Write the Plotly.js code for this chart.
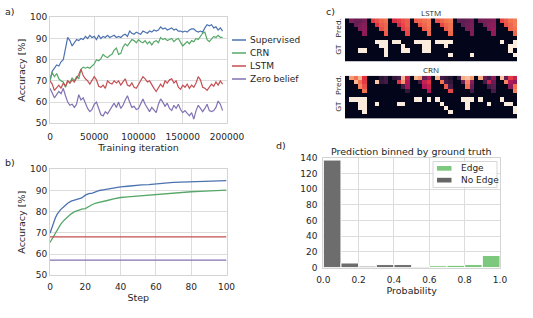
<!DOCTYPE html>
<html><head><meta charset="utf-8">
<script src="https://cdn.plot.ly/plotly-3.0.1.min.js"></script>
<style>html,body{margin:0;padding:0;background:#fff}#chart{width:533px;height:318px}</style>
</head><body><div id="chart"></div>
<script>
// ---------------- DATA ----------------
// Panel a: accuracy during training
const iterations = [0,2500,5000,7500,10000,12500,15000,17500,20000,22500,25000,27500,30000,32500,35000,37500,40000,42500,45000,47500,50000,52500,55000,57500,60000,62500,65000,67500,70000,72500,75000,77500,80000,82500,85000,87500,90000,92500,95000,97500,100000,102500,105000,107500,110000,112500,115000,117500,120000,122500,125000,127500,130000,132500,135000,137500,140000,142500,145000,147500,150000,152500,155000,157500,160000,162500,165000,167500,170000,172500,175000,177500,180000,182500,185000,187500,190000,192500,195000];
const trainSupervised = [70.5,74.5,76,77.5,77,79,80,86,90.5,89, 86.5,88,89.5,89,90,89.5,91,90,91.5,90.5, 91,89.5,91.5,90,91,90.5,91.5,90.5,91,91.5, 90.5,91,90.5,91.5,92,91,93.5,92.5,92,93, 92.5,92,93.5,93,92.5,93.5,93,94,93.5,94, 95.5,94.5,95,94,94.5,95,94,94.5,93.5,93.5, 93,93.5,93,94,94.5,94.5,93.5,93,93.5,93, 95,96.5,96,96.5,95,95.5,94,95,93.5];
const trainCRN = [70,74,72,73.5,71,70,69.5,67,70,69, 71.5,70,72,71,75.5,76.5,76,76.5,76,77, 78,80,79.5,80.5,82.5,81.5,81,82,82.5,84.5, 85.5,82.5,83,86,87.5,86.5,88,89.5,89,88, 89.5,88.5,88,89,87.5,88.5,87,88.5,89,88, 90.5,89.5,90,89,89.5,90,88.5,89.5,90,88.5, 86.5,87.5,88.5,87.5,89,88.5,90,89.5,91,92.5, 93,89.5,88.5,90,91,90.5,91.5,90.5,90.5];
const trainLSTM = [70,68.5,65.5,67,68,66.5,69,67.5,70,69, 70.5,69.5,71,73,75.5,72.5,71,70,68.5,70, 72,70.5,67.5,67,68,66.5,70,69,68.5,70, 69,70,68,69.5,71,68,67.5,69,67,66.5, 68.5,70.5,72,71,69.5,70,68,66.5,65,67, 68.5,67,70,69,70.5,71,69,70,67,66, 68,67,68.5,66.5,68,67,69,72,70.5,67, 66.5,65.5,67,68.5,67.5,69.5,68,70,68.5];
const trainZero = [66.5,64,62,63.5,65,64,66.5,63,60,58.5, 59,57.5,59,63.5,61,62,59.5,57,55.5,56.5, 59,60,57,54,53.5,55.5,54.5,56,58,59.5, 57.5,60,57,58.5,61,63,60,57.5,58,56.5, 57,59.5,61.5,59,57,55.5,57.5,56,55,59, 61.5,60,58,59.5,57,56,58.5,57,59,56.5, 55,56,54.5,53.5,55,52,56,58.5,57,55.5, 57,59,56,55.5,56,57.5,60.5,59,56];
const seriesNames = ['Supervised','CRN','LSTM','Zero belief'];

// Panel b: accuracy per step
const steps = [0,1,2,3,4,5,6,8,10,12,14,16,18,20,22,24,26,28,30,33,36,40,44,48,52,56,60,65,70,75,80,85,90,95,100];
const stepSupervised = [69.8,72.5,75,77,78.7,80,81,82.5,84,85,85.5,86,86.5,87.8,88.5,88.8,89.5,90,90.3,90.8,91.3,91.7,92,92.5,92.7,92.8,93.2,93.5,93.8,93.9,94.1,94.3,94.4,94.6,94.7];
const stepCRN = [65.5,67,68.5,70,71.5,72.8,74,76,77.6,79,80,80.7,81.2,81.5,82.5,83.4,84,84.5,84.8,85.4,86,86.7,87,87.3,87.5,87.6,87.9,88.3,88.7,89,89.4,89.6,89.8,90,90.2];
const stepFlat = [0,100];
const stepLSTM = [68.1,68.1];
const stepZero = [57.2,57.2];

// Panel c: predicted vs ground-truth adjacency (8 examples of 5x5 blocks)
const lstmPred = [
 [0,.36,.30,.30,.34, 0,.64,.68,.72,.74, 0,.60,.64,.68,.70, 0,.70,.72,.74,.76, 0,.68,.72,.75,.76, 0,.28,.27,.30,.32, 0,.32,.34,.36,.38, 0,.66,.70,.74,.76],
 [0,0,.30,.34,.38, 0,0,.62,.70,.72, 0,0,.58,.66,.70, 0,0,.68,.72,.76, 0,0,.66,.72,.74, 0,0,.28,.32,.34, 0,0,.32,.38,.40, 0,0,.68,.72,.76],
 [0,0,0,.36,.40, 0,0,0,.68,.72, 0,0,0,.64,.68, 0,0,0,.70,.74, 0,0,0,.70,.74, 0,0,0,.32,.36, 0,0,0,.36,.42, 0,0,0,.72,.74],
 [0,0,0,0,.40, 0,0,0,0,.70, 0,0,0,0,.66, 0,0,0,0,.72, 0,0,0,0,.72, 0,0,0,0,.36, 0,0,0,0,.40, 0,0,0,0,.72],
 [0,0,0,0,0, 0,0,0,0,0, 0,0,0,0,0, 0,0,0,0,0, 0,0,0,0,0, 0,0,0,0,0, 0,0,0,0,0, 0,0,0,0,0]
];
const lstmGT = [
 [0,0,0,0,0, 0,0,1,1,1, 0,1,1,0,0, 0,1,1,1,1, 0,1,1,1,1, 0,0,0,0,0, 0,0,0,0,0, 0,1,0,0,1],
 [0,0,0,0,0, 0,0,0,1,1, 0,0,0,1,0, 0,0,0,1,1, 0,0,0,1,0, 0,0,0,0,0, 0,0,0,0,0, 0,0,0,1,1],
 [0,0,0,1,1, 0,0,0,0,1, 0,0,0,1,1, 0,0,0,1,1, 0,0,0,0,0, 0,0,0,0,0, 0,0,0,0,0, 0,0,0,1,0],
 [0,0,0,0,0, 0,0,0,0,1, 0,0,0,0,0, 0,0,0,0,0, 0,0,0,0,1, 0,0,0,0,1, 0,0,0,0,0, 0,0,0,0,1],
 [0,0,0,0,0, 0,0,0,0,0, 0,0,0,0,0, 0,0,0,0,0, 0,0,0,0,0, 0,0,0,0,0, 0,0,0,0,0, 0,0,0,0,0]
];
const crnPred = [
 [0,.82,.74,.88,.62, 0,0,0,.12,.18, 0,.15,.2,.88,.55, 0,.88,.82,.3,.5, 0,.88,.2,.15,.1, 0,.2,.86,.9,.82, 0,.86,.3,.2,.4, 0,.9,.3,.64,.55],
 [0,0,.88,.74,.64, 0,0,.92,.15,.2, 0,0,.62,.82,.5, 0,0,.2,.55,.62, 0,0,.74,.2,.15, 0,0,.3,.78,.4, 0,0,.2,.55,.3, 0,0,.78,.5,.4],
 [0,0,0,.78,.68, 0,0,0,0,0, 0,0,0,.2,.45, 0,0,0,.5,.55, 0,0,0,.7,.2, 0,0,0,.74,.3, 0,0,0,.2,.25, 0,0,0,.4,.74],
 [0,0,0,0,.74, 0,0,0,0,0, 0,0,0,0,.15, 0,0,0,0,.5, 0,0,0,0,.66, 0,0,0,0,.2, 0,0,0,0,.2, 0,0,0,0,.78],
 [0,0,0,0,0, 0,0,0,0,0, 0,0,0,0,0, 0,0,0,0,0, 0,0,0,0,0, 0,0,0,0,0, 0,0,0,0,0, 0,0,0,0,0]
];
const crnGT = [
 [0,1,1,1,1, 0,0,0,0,0, 0,0,0,0,0, 0,1,1,0,1, 0,1,0,0,0, 0,0,1,1,1, 0,1,0,0,0, 0,1,0,0,0],
 [0,0,0,1,1, 0,0,1,0,0, 0,0,1,1,0, 0,0,0,0,0, 0,0,1,0,0, 0,0,0,1,0, 0,0,0,1,0, 0,0,1,1,0],
 [0,0,0,1,1, 0,0,0,0,0, 0,0,0,0,0, 0,0,0,0,0, 0,0,0,1,0, 0,0,0,1,0, 0,0,0,0,0, 0,0,0,0,1],
 [0,0,0,0,1, 0,0,0,0,0, 0,0,0,0,0, 0,0,0,0,0, 0,0,0,0,1, 0,0,0,0,0, 0,0,0,0,0, 0,0,0,0,1],
 [0,0,0,0,0, 0,0,0,0,0, 0,0,0,0,0, 0,0,0,0,0, 0,0,0,0,0, 0,0,0,0,0, 0,0,0,0,0, 0,0,0,0,0]
];
const heatRowLabels = ['Pred.','GT'];

// Panel d: histogram of predictions binned by ground truth
const binCenters = [0.05,0.15,0.25,0.35,0.45,0.55,0.65,0.75,0.85,0.95];
const edgeCounts = [0,0,0,0,1,1,2.5,3,4,15.5];
const noEdgeCounts = [137,6,2,4,4,1.5,0,0,0,0];

// ---------------- STYLE / LAYOUT ----------------
const W = 533, H = 318;
const px = v => v / W;
const py = v => 1 - v / H;
const lineColors = ['#4C72B0','#55A868','#C44E52','#8172B2'];
const FONT = 'DejaVu Sans, sans-serif';
const TXT = '#262626';
const rocket = [[0,'#03051A'],[0.125,'#2A1636'],[0.25,'#561E51'],[0.375,'#841E5A'],[0.5,'#B41658'],[0.625,'#E13342'],[0.75,'#F37651'],[0.875,'#F6B48E'],[1,'#FAEBDD']];

const baseAx = {showline:true, mirror:true, linecolor:'#d4d4d4', linewidth:1, gridcolor:'#dcdcdc', gridwidth:1,
  zeroline:false, ticks:'', tickfont:{family:FONT, size:9, color:TXT}, fixedrange:true};
const ttl = (t, s) => ({text:t, font:{family:FONT, size:9.5, color:TXT}, standoff:s});

const traces = [];
const trainSeries = [trainSupervised, trainCRN, trainLSTM, trainZero];
trainSeries.forEach((ys, i) => traces.push({type:'scatter', mode:'lines', x:iterations, y:ys, name:seriesNames[i],
  line:{color:lineColors[i], width:1.2}, xaxis:'x', yaxis:'y', showlegend:false, hoverinfo:'skip'}));

traces.push({type:'scatter', mode:'lines', x:steps, y:stepSupervised, line:{color:lineColors[0], width:1.3}, xaxis:'x2', yaxis:'y2', showlegend:false});
traces.push({type:'scatter', mode:'lines', x:steps, y:stepCRN, line:{color:lineColors[1], width:1.3}, xaxis:'x2', yaxis:'y2', showlegend:false});
traces.push({type:'scatter', mode:'lines', x:stepFlat, y:stepLSTM, line:{color:lineColors[2], width:1.3}, xaxis:'x2', yaxis:'y2', showlegend:false});
traces.push({type:'scatter', mode:'lines', x:stepFlat, y:stepZero, line:{color:lineColors[3], width:1.3}, xaxis:'x2', yaxis:'y2', showlegend:false});

traces.push({type:'bar', x:binCenters, y:edgeCounts, width:0.1, name:'Edge', marker:{color:'#7CC87D', line:{color:'#ffffff', width:1}}, xaxis:'x3', yaxis:'y3', showlegend:false});
traces.push({type:'bar', x:binCenters, y:noEdgeCounts, width:0.1, name:'No Edge', marker:{color:'#666666', opacity:0.95, line:{color:'#ffffff', width:1}}, xaxis:'x3', yaxis:'y3', showlegend:false});

const lstmZ = lstmPred.concat(lstmGT);
const crnZ = crnPred.concat(crnGT);
traces.push({type:'heatmap', z:lstmZ, colorscale:rocket, zmin:0, zmax:1, showscale:false, xaxis:'x4', yaxis:'y4', hoverinfo:'skip'});
traces.push({type:'heatmap', z:crnZ, colorscale:rocket, zmin:0, zmax:1, showscale:false, xaxis:'x5', yaxis:'y5', hoverinfo:'skip'});

const heatY = (dom) => ({domain:dom, range:[9.5,-0.5], showgrid:false, zeroline:false, showline:false, ticks:'',
  tickvals:[2,7], ticktext:heatRowLabels, tickangle:-90, tickfont:{family:'Open Sans, sans-serif', size:8, color:TXT}, fixedrange:true, ticklabelstandoff:1});
const heatX = (dom, anchor) => ({domain:dom, anchor:anchor, range:[-0.5,39.5], showgrid:false, zeroline:false, showline:false, showticklabels:false, ticks:'', fixedrange:true});

const annotations = [];
const ann = (t, x, y, size, fam, extra) => annotations.push(Object.assign({text:t, x:px(x), y:py(y), xref:'paper', yref:'paper',
  showarrow:false, xanchor:'center', yanchor:'middle', font:{family:fam||FONT, size:size, color:TXT}}, extra||{}));
ann('a)', 10, 12, 9.5);
ann('b)', 10, 162, 9.5);
ann('c)', 330, 12, 9.5);
ann('d)', 281, 145, 9.5);
ann('LSTM', 431, 13, 8, 'Open Sans, sans-serif');
ann('CRN', 431, 70, 8, 'Open Sans, sans-serif');
ann('Prediction binned by ground truth', 411.7, 151, 9.5);

const shapes = [];
// legend for panel a
const legY = [40, 53, 66, 79];
seriesNames.forEach((n, i) => {
  shapes.push({type:'line', xref:'paper', yref:'paper', x0:px(232), x1:px(246), y0:py(legY[i]), y1:py(legY[i]), line:{color:lineColors[i], width:1.5}});
  ann(n, 248, legY[i], 9, FONT, {xanchor:'left'});
});
// legend for panel d
shapes.push({type:'rect', xref:'paper', yref:'paper', x0:px(433), x1:px(497), y0:py(187.5), y1:py(161.5), line:{color:'#d6d6d6', width:1}, fillcolor:'rgba(255,255,255,0.85)', layer:'above'});
shapes.push({type:'rect', xref:'paper', yref:'paper', x0:px(437), x1:px(451.5), y0:py(170.7), y1:py(166), line:{width:0}, fillcolor:'#7CC87D', layer:'above'});
shapes.push({type:'rect', xref:'paper', yref:'paper', x0:px(437), x1:px(451.5), y0:py(182.5), y1:py(177.8), line:{width:0}, fillcolor:'#666666', layer:'above'});
ann('Edge', 459, 168.3, 9, FONT, {xanchor:'left'});
ann('No Edge', 459, 180.3, 9, FONT, {xanchor:'left'});

const layout = {
  width:W, height:H, margin:{l:0,r:0,t:0,b:0}, paper_bgcolor:'#ffffff', plot_bgcolor:'#ffffff',
  showlegend:false, barmode:'overlay', bargap:0,
  xaxis: Object.assign({}, baseAx, {domain:[px(50), px(227)], anchor:'y', range:[0,200000], tickvals:[0,50000,100000,150000,200000], tickformat:'d', ticklabelstandoff:5, title:ttl('Training iteration', 3)}),
  yaxis: Object.assign({}, baseAx, {domain:[py(123.3), py(17.3)], anchor:'x', range:[50,100], tickvals:[50,60,70,80,90,100], title:ttl('Accuracy [%]', 2)}),
  xaxis2: Object.assign({}, baseAx, {domain:[px(50), px(226.5)], anchor:'y2', range:[0,100], tickvals:[0,20,40,60,80,100], ticklabelstandoff:3, title:ttl('Step', 3)}),
  yaxis2: Object.assign({}, baseAx, {domain:[py(275.3), py(169.3)], anchor:'x2', range:[50,100], tickvals:[50,60,70,80,90,100], title:ttl('Accuracy [%]', 2)}),
  xaxis3: Object.assign({}, baseAx, {domain:[px(323.3), px(500)], anchor:'y3', range:[0,1], tickvals:[0,0.2,0.4,0.6,0.8,1.0], tickformat:'.1f', ticklabelstandoff:3, title:ttl('Probability', 3)}),
  yaxis3: Object.assign({}, baseAx, {domain:[py(267.7), py(157.7)], anchor:'x3', range:[0,140], tickvals:[0,20,40,60,80,100,120,140], ticklabelstandoff:3}),
  xaxis4: heatX([px(345), px(517)], 'y4'),
  yaxis4: Object.assign(heatY([py(61.7), py(18.3)]), {anchor:'x4'}),
  xaxis5: heatX([px(345), px(517)], 'y5'),
  yaxis5: Object.assign(heatY([py(118.5), py(75.7)]), {anchor:'x5'}),
  annotations: annotations,
  shapes: shapes
};

Plotly.newPlot('chart', traces, layout, {staticPlot:true, displayModeBar:false});
</script></body></html>
